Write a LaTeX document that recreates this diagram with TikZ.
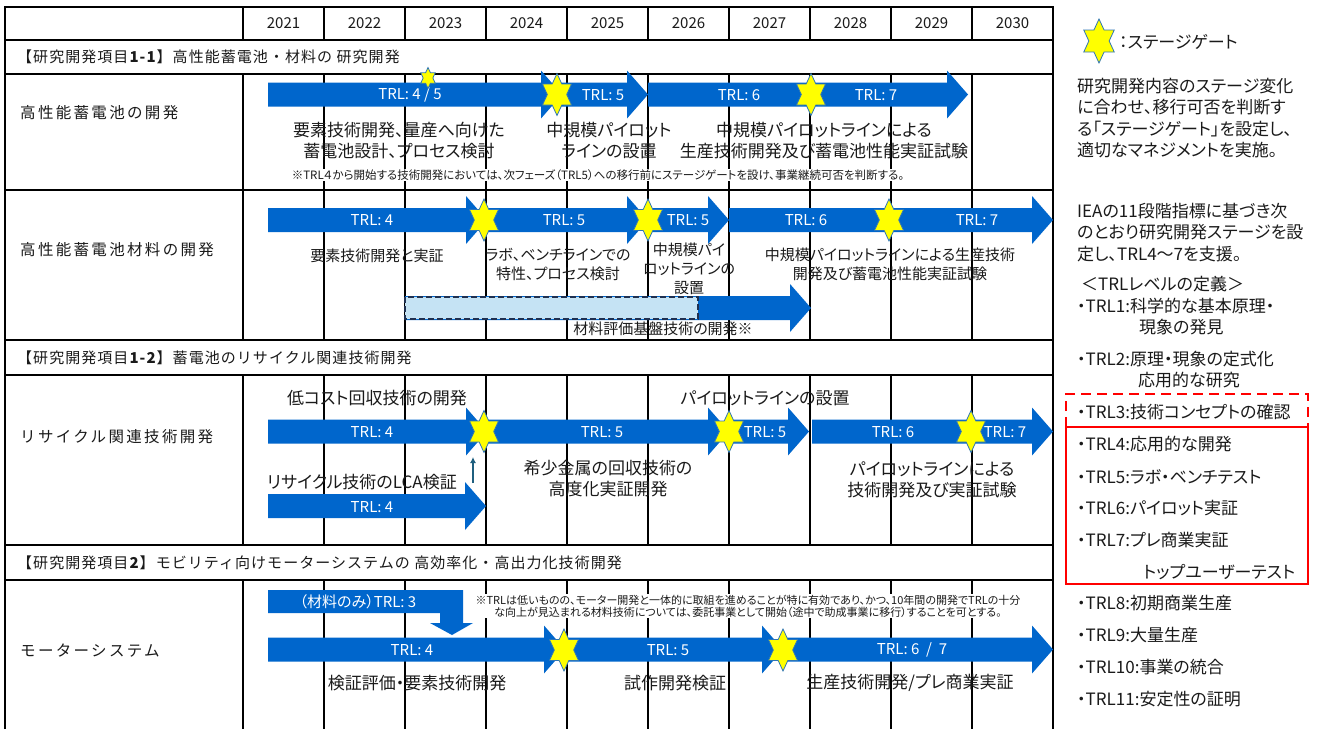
\documentclass[tikz,border=0pt]{standalone}
\usepackage{fontspec}
\usetikzlibrary{arrows.meta}
\setmainfont{Noto Sans CJK JP}[RawFeature={+palt}]
\newfontfamily\jsp{Noto Sans CJK JP}[LetterSpace=15]
\newfontfamily\jsh{Noto Sans CJK JP}[LetterSpace=7]
\definecolor{arrowblue}{HTML}{0066CC}
\definecolor{gatey}{HTML}{FFFF00}
\definecolor{gateb}{HTML}{2E75B6}
\definecolor{boxfill}{HTML}{C5E3F4}
\definecolor{boxline}{HTML}{1F3050}
\definecolor{txt}{HTML}{1A1A1A}
\definecolor{upc}{HTML}{1F5F7F}
\definecolor{redline}{HTML}{FF0000}
\tikzset{
  gridline/.style={line width=1.2pt, black},
  gatestar/.style={fill=gatey, draw=gateb, line width=0.8pt, line join=miter},
  arrowlabel/.style={text=white, font=\fontsize{15}{18}\selectfont, inner sep=0pt},
  desc/.style={text=txt, font=\fontsize{17}{21}\selectfont, align=center, inner sep=0pt},
  descs/.style={text=txt, font=\fontsize{15}{19}\selectfont, align=center, inner sep=0pt},
  notebox/.style={text=txt, fill=white, inner sep=1pt, align=center},
  rowlabel/.style={text=txt, anchor=west, font=\jsp\fontsize{15.5}{18}\selectfont, inner sep=0pt},
  sechead/.style={text=txt, anchor=west, font=\jsh\fontsize{15}{18}\selectfont, inner sep=0pt},
  yearlabel/.style={text=txt, font=\fontsize{15}{17}\selectfont, inner sep=0pt},
  side/.style={text=txt, anchor=west, font=\fontsize{17}{20}\selectfont, inner sep=0pt},
}
% block arrow: name, x start, x tip, y centre
\newcommand\barrow[4]{%
  \path[fill=arrowblue] (#2,#4-12) -- (#3-21,#4-12) -- (#3-21,#4-24) -- (#3,#4)
    -- (#3-21,#4+24) -- (#3-21,#4+12) -- (#2,#4+12) -- cycle;
  \coordinate (#1) at ({(#2+#3)/2},#4);}
% stage gate star: name, x, y, radius
\newcommand\gate[4]{%
  \coordinate (#1) at (#2,#3);
  \draw[gatestar, shift={(#2,#3)}, xscale=0.8]
    (90:#4) -- (60:#4*0.577) -- (30:#4) -- (0:#4*0.577) -- (-30:#4) -- (-60:#4*0.577)
    -- (-90:#4) -- (-120:#4*0.577) -- (-150:#4) -- (180:#4*0.577) -- (150:#4) -- (120:#4*0.577) -- cycle;}
\begin{document}
\begin{tikzpicture}[x=1pt,y=-1pt]
\useasboundingbox (0,0) rectangle (1318,729);
\fill[white] (0,0) rectangle (1318,729);

% ---------------- grid ----------------
\draw[gridline] (5,729) -- (5,7) -- (1053,7) -- (1053,729);
\foreach \yy in {40,74,190,340,375,545,580} \draw[gridline] (5,\yy) -- (1053,\yy);
\foreach \xx in {243,324,405,486,567,648,729,810,891,972} {
  \draw[gridline] (\xx,7) -- (\xx,40);
  \draw[gridline] (\xx,74) -- (\xx,340);
  \draw[gridline] (\xx,375) -- (\xx,545);
  \draw[gridline] (\xx,580) -- (\xx,729);
}
\foreach \yr [count=\i from 0] in {2021,...,2030}
  \node[yearlabel] (y\yr) at (283.5+81*\i,23) {\yr};

% section headings and row labels
\node[sechead] (s11) at (17,57) {【研究開発項目\textbf{1-1}】高性能蓄電池・材料の 研究開発};
\node[sechead] (s12) at (17,358) {【研究開発項目\textbf{1-2}】蓄電池のリサイクル関連技術開発};
\node[sechead] (s2) at (17,563) {【研究開発項目\textbf{2}】モビリティ向けモーターシステムの 高効率化・高出力化技術開発};
\node[rowlabel] (r1) at (20,113) {高性能蓄電池の開発};
\node[rowlabel] (r2) at (20,250) {高性能蓄電池材料の開発};
\node[rowlabel] (r3) at (20,437) {リサイクル関連技術開発};
\node[rowlabel] (r4) at (20,651) {モーターシステム};

% ---------------- row 1 ----------------
\barrow{a1}{268}{562}{94.5}
\barrow{a2}{555}{648}{94.5}
\barrow{a3}{648}{968}{94.5}
\node[arrowlabel] (l1a) at (410,95) {TRL: 4 / 5};
\node[arrowlabel] (l1b) at (603,95) {TRL: 5};
\node[arrowlabel] (l1c) at (739,95) {TRL: 6};
\node[arrowlabel] (l1d) at (876,95) {TRL: 7};
\node[desc] (t1a) at (399,140.5) {要素技術開発、量産へ向けた\\蓄電池設計、プロセス検討};
\node[desc] (t1b) at (609,140.5) {中規模パイロット\\ラインの設置};
\node[desc] (t1c) at (824,140.5) {中規模パイロットラインによる\\生産技術開発及び蓄電池性能実証試験};
\node[notebox, font=\fontsize{11.5}{13}\selectfont] (n1) at (598,175) {※TRL４から開始する技術開発においては、次フェーズ（TRL5）への移行前にステージゲートを設け、事業継続可否を判断する。};

% ---------------- row 2 ----------------
\barrow{b1}{268}{487}{220}
\barrow{b2}{484}{648}{220}
\barrow{b3}{648}{729}{220}
\barrow{b4}{729}{1053}{220}
\barrow{b5}{405}{811}{308}
\draw[fill=boxfill, draw=boxline, line width=1.6pt, dash pattern=on 6pt off 3pt] (405,297) rectangle (698,319);
\node[arrowlabel] (l2a) at (372,220) {TRL: 4};
\node[arrowlabel] (l2b) at (564,220) {TRL: 5};
\node[arrowlabel] (l2c) at (688,220) {TRL: 5};
\node[arrowlabel] (l2d) at (806,220) {TRL: 6};
\node[arrowlabel] (l2e) at (977,220) {TRL: 7};
\node[descs] (t2a) at (377,256) {要素技術開発と実証};
\node[descs] (t2b) at (558,264.5) {ラボ、ベンチラインでの\\特性、プロセス検討};
\node[descs] (t2c) at (689,269) {中規模パイ\\ロットラインの\\設置};
\node[descs] (t2d) at (890,264) {中規模パイロットラインによる生産技術\\開発及び蓄電池性能実証試験};
\node[descs] (t2e) at (663,329) {材料評価基盤技術の開発※};

% ---------------- row 3 ----------------
\barrow{c1}{268}{487}{431.5}
\barrow{c2}{484}{729}{431.5}
\barrow{c3}{729}{809}{431.5}
\barrow{c4}{812}{1053}{431.5}
\barrow{c5}{268}{486}{506}
\node[arrowlabel] (l3a) at (372,432) {TRL: 4};
\node[arrowlabel] (l3b) at (602,432) {TRL: 5};
\node[arrowlabel] (l3c) at (765,432) {TRL: 5};
\node[arrowlabel] (l3d) at (893,432) {TRL: 6};
\node[arrowlabel] (l3e) at (1005,432) {TRL: 7};
\node[arrowlabel] (l3f) at (372,507) {TRL: 4};
\node[desc] (t3a) at (377,398) {低コスト回収技術の開発};
\node[desc] (t3b) at (765,398) {パイロットラインの設置};
\node[desc] (t3c) at (362,482) {リサイクル技術のLCA検証};
\node[desc] (t3d) at (608,478.5) {希少金属の回収技術の\\高度化実証開発};
\node[desc] (t3e) at (932,480) {パイロットラインによる\\技術開発及び実証試験};
\coordinate (upfrom) at (473,483);
\coordinate (upto) at (473,457);
\draw[upc, line width=1.3pt, -{Latex[length=6pt,width=6pt]}] (upfrom) -- (upto);

% ---------------- row 4 ----------------
\path[fill=arrowblue] (268,590) -- (463,590) -- (463,623) -- (473,623) -- (452,635)
  -- (430,623) -- (440,623) -- (440,613) -- (268,613) -- cycle;
\barrow{d1}{268}{565}{649.5}
\barrow{d2}{564}{783}{649.5}
\barrow{d3}{783}{1053}{649.5}
\node[arrowlabel] (l4a) at (358,602) {（材料のみ）TRL: 3};
\node[arrowlabel] (l4b) at (412,650) {TRL: 4};
\node[arrowlabel] (l4c) at (668,650) {TRL: 5};
\node[arrowlabel] (l4d) at (912,650) {TRL: 6 \ / \ 7};
\node[notebox, font=\fontsize{11}{12}\selectfont] (n4) at (748,606) {※TRLは低いものの、モーター開発と一体的に取組を進めることが特に有効であり、かつ、10年間の開発でTRLの十分\\な向上が見込まれる材料技術については、委託事業として開始（途中で助成事業に移行）することを可とする。};
\node[desc] (t4a) at (417,683) {検証評価・要素技術開発};
\node[desc] (t4b) at (675,683) {試作開発検証};
\node[desc] (t4c) at (910,683) {生産技術開発/プレ商業実証};

% ---------------- stage gates ----------------
\gate{g0}{428}{78}{10.5}
\gate{g1}{557}{94.5}{21}
\gate{g2}{811}{94.5}{21}
\gate{g3}{484}{220}{21}
\gate{g4}{648}{220}{21}
\gate{g5}{889}{220}{21}
\gate{g6}{484}{431.5}{21}
\gate{g7}{729}{431.5}{21}
\gate{g8}{971}{431.5}{21}
\gate{g9}{564}{650}{21}
\gate{g10}{783}{650}{21}

% ---------------- right panel ----------------
\gate{gl}{1099}{41}{22}
\node[side] (lg) at (1119,42) {：ステージゲート};
\node[side] (p1) at (1077,86) {研究開発内容のステージ変化};
\node[side] (p2) at (1077,107) {に合わせ、移行可否を判断す};
\node[side] (p3) at (1077,129) {る「ステージゲート」を設定し、};
\node[side] (p4) at (1077,150) {適切なマネジメントを実施。};
\node[side] (q1) at (1077,211) {IEAの11段階指標に基づき次};
\node[side] (q2) at (1077,232) {のとおり研究開発ステージを設};
\node[side] (q3) at (1077,254) {定し、TRL4～7を支援。};
\node[side] (def) at (1081,284) {＜TRLレベルの定義＞};
\node[side] (trl1) at (1077,306) {・TRL1:科学的な基本原理・};
\node[side] (trl1b) at (1139,327) {現象の発見};
\node[side] (trl2) at (1077,359) {・TRL2:原理・現象の定式化};
\node[side] (trl2b) at (1138,380) {応用的な研究};
\node[side] (trl3) at (1077,412) {・TRL3:技術コンセプトの確認};
\node[side] (trl4) at (1077,444) {・TRL4:応用的な開発};
\node[side] (trl5) at (1077,477) {・TRL5:ラボ・ベンチテスト};
\node[side] (trl6) at (1077,508) {・TRL6:パイロット実証};
\node[side] (trl7) at (1077,540) {・TRL7:プレ商業実証};
\node[side] (trl7b) at (1143,572) {トップユーザーテスト};
\node[side] (trl8) at (1077,603) {・TRL8:初期商業生産};
\node[side] (trl9) at (1077,635) {・TRL9:大量生産};
\node[side] (trl10) at (1077,667) {・TRL10:事業の統合};
\node[side] (trl11) at (1077,699) {・TRL11:安定性の証明};
\draw[redline, line width=2.2pt, dash pattern=on 10pt off 6pt] (1066,427) -- (1066,394) -- (1308,394) -- (1308,427);
\draw[redline, line width=2.2pt] (1066,427) rectangle (1308,584);
\end{tikzpicture}
\end{document}
